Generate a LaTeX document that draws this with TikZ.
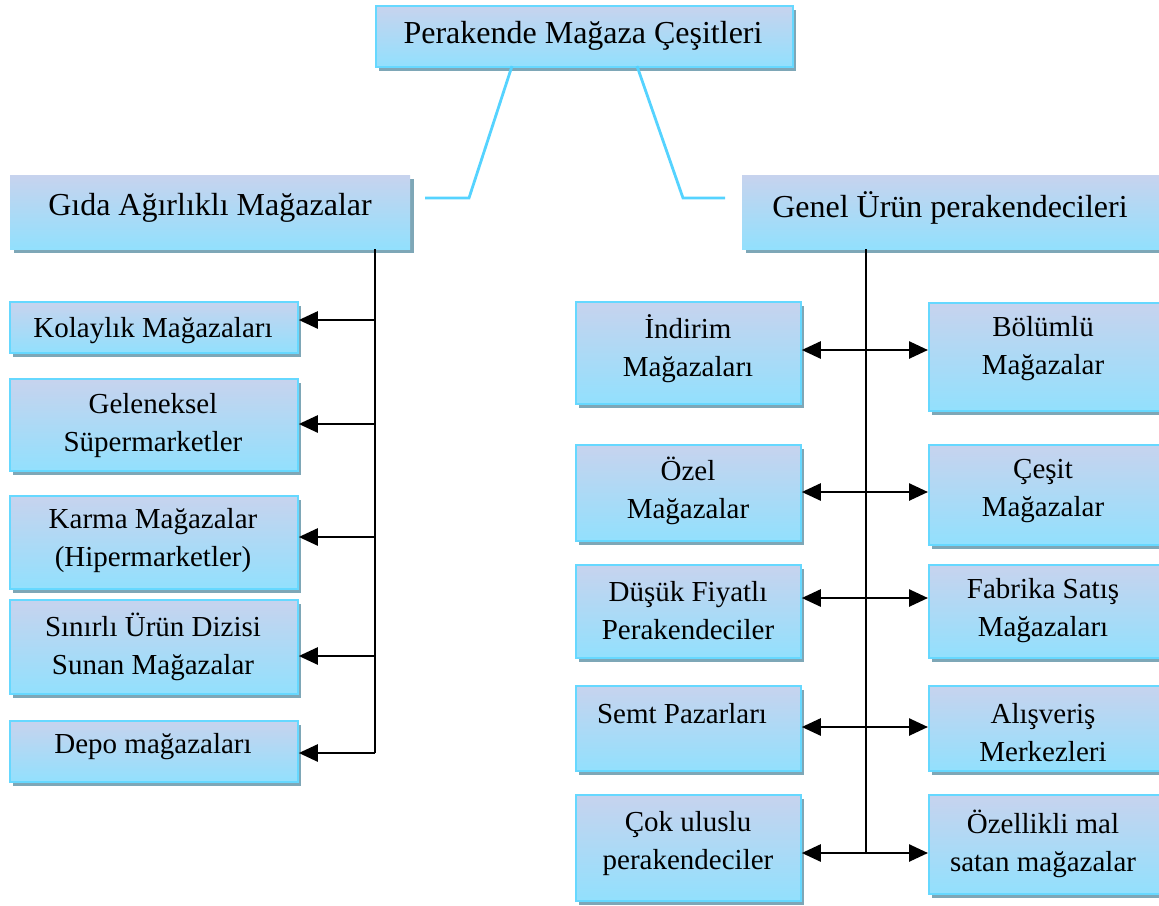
\documentclass[tikz,border=0pt]{standalone}
\usepackage{fontspec}
\setmainfont{Liberation Serif}
\usetikzlibrary{arrows.meta}
\definecolor{boxtop}{HTML}{C7D3EE}
\definecolor{boxbot}{HTML}{92E0FD}
\definecolor{boxline}{HTML}{66D8FF}
\definecolor{shadowc}{HTML}{7EA7B7}
\definecolor{linkc}{HTML}{55D3FF}
\tikzset{
  base/.style={rectangle, inner sep=0pt, top color=boxtop, bottom color=boxbot},
  bbox/.style={base, draw=boxline, line width=1.8pt},
  plainbox/.style={base},
  shadowed/.style={preaction={fill=shadowc, draw=none, transform canvas={shift={(3.5pt,-4pt)}}}},
  txt/.style={font=\fontsize{29}{38}\selectfont, align=center, inner sep=0pt},
  bigtxt/.style={font=\fontsize{32}{38}\selectfont, inner sep=0pt},
  link/.style={draw=linkc, line width=2.8pt},
  trunk/.style={draw=black, line width=2.6pt},
  tip/.tip={Triangle[length=19pt,width=17pt]},
  arr/.style={draw=black, line width=2.6pt, -tip},
  darr/.style={draw=black, line width=2.6pt, tip-tip},
}
\newcommand{\boxat}[5]{%
  \node[#1, shadowed, anchor=north west, minimum width=#4, minimum height=#5] (#2) at #3 {};}
\begin{document}
\begin{tikzpicture}[x=1pt,y=-1pt]
\useasboundingbox (0,0) rectangle (1159,905);
% boxes
\boxat{bbox}{top}{(375,5)}{417pt}{61pt}
\boxat{plainbox}{gida}{(10,175)}{400pt}{74pt}
\boxat{plainbox}{genel}{(742,175)}{420pt}{74pt}
\boxat{bbox}{kol}{(9,301)}{288pt}{51pt}
\boxat{bbox}{gel}{(9,378)}{288pt}{92pt}
\boxat{bbox}{kar}{(9,495)}{288pt}{93pt}
\boxat{bbox}{sin}{(9,599)}{288pt}{94pt}
\boxat{bbox}{dep}{(9,720)}{288pt}{61pt}
\boxat{bbox}{ind}{(575,301)}{225pt}{102pt}
\boxat{bbox}{bol}{(928,302)}{240pt}{108pt}
\boxat{bbox}{oze}{(575,444)}{225pt}{96pt}
\boxat{bbox}{ces}{(928,444)}{240pt}{100pt}
\boxat{bbox}{dus}{(575,564)}{225pt}{93pt}
\boxat{bbox}{fab}{(928,564)}{240pt}{93pt}
\boxat{bbox}{sem}{(575,685)}{225pt}{85pt}
\boxat{bbox}{ali}{(928,685)}{240pt}{85pt}
\boxat{bbox}{cok}{(575,794)}{225pt}{106pt}
\boxat{bbox}{ozl}{(928,794)}{240pt}{99pt}
% texts
\node[bigtxt] (ttop) at (583,36) {Perakende Mağaza Çeşitleri};
\node[bigtxt] (tgida) at (210,208) {Gıda Ağırlıklı Mağazalar};
\node[bigtxt] (tgenel) at (950,208) {Genel Ürün perakendecileri};
\node[txt] (tkol) at (153,331) {Kolaylık Mağazaları};
\node[txt] (tgel) at (153,426) {Geleneksel\\Süpermarketler};
\node[txt] (tkar) at (153,541) {Karma Mağazalar\\(Hipermarketler)};
\node[txt] (tsin) at (153,647) {Sınırlı Ürün Dizisi\\Sunan Mağazalar};
\node[txt] (tdep) at (153,747) {Depo mağazaları};
\node[txt] (tind) at (688,349) {İndirim\\Mağazaları};
\node[txt] (tbol) at (1043,349) {Bölümlü\\Mağazalar};
\node[txt] (toze) at (688,491) {Özel\\Mağazalar};
\node[txt] (tces) at (1043,491) {Çeşit\\Mağazalar};
\node[txt] (tdus) at (688,611) {Düşük Fiyatlı\\Perakendeciler};
\node[txt] (tfab) at (1043,611) {Fabrika Satış\\Mağazaları};
\node[txt] (tsem) at (682,714) {Semt Pazarları};
\node[txt] (tali) at (1043,733) {Alışveriş\\Merkezleri};
\node[txt] (tcok) at (688,844) {Çok uluslu\\perakendeciler};
\node[txt] (tozl) at (1043,844) {Özellikli mal\\satan mağazalar};
% top links
\coordinate (lt) at (512,66);
\coordinate (lb) at (469,198);
\coordinate (le) at (425,198);
\coordinate (rt) at (637,66);
\coordinate (rb) at (683,198);
\coordinate (re) at (725,198);
\draw[link] (lt) -- (lb) -- (le);
\draw[link] (rt) -- (rb) -- (re);
% left trunk
\coordinate (ltop) at (375,249);
\coordinate (lbot) at (375,753);
\draw[trunk] (ltop) -- (lbot);
\foreach \y/\n in {320/kol,424/gel,537/kar,656/sin} {
  \coordinate (c\n) at (375,\y);
  \draw[arr] (c\n) -- (c\n -| \n.east);
}
\draw[arr] (lbot) -- (lbot -| dep.east);
% right trunk
\coordinate (rtop) at (866,249);
\coordinate (rbot) at (866,853);
\draw[trunk] (rtop) -- (rbot);
\foreach \y/\a/\b in {350/ind/bol,492/oze/ces,598/dus/fab,727/sem/ali,853/cok/ozl} {
  \coordinate (p\a) at (866,\y);
  \draw[darr] (p\a -| \a.east) -- (p\a -| \b.west);
}
\end{tikzpicture}
\end{document}
